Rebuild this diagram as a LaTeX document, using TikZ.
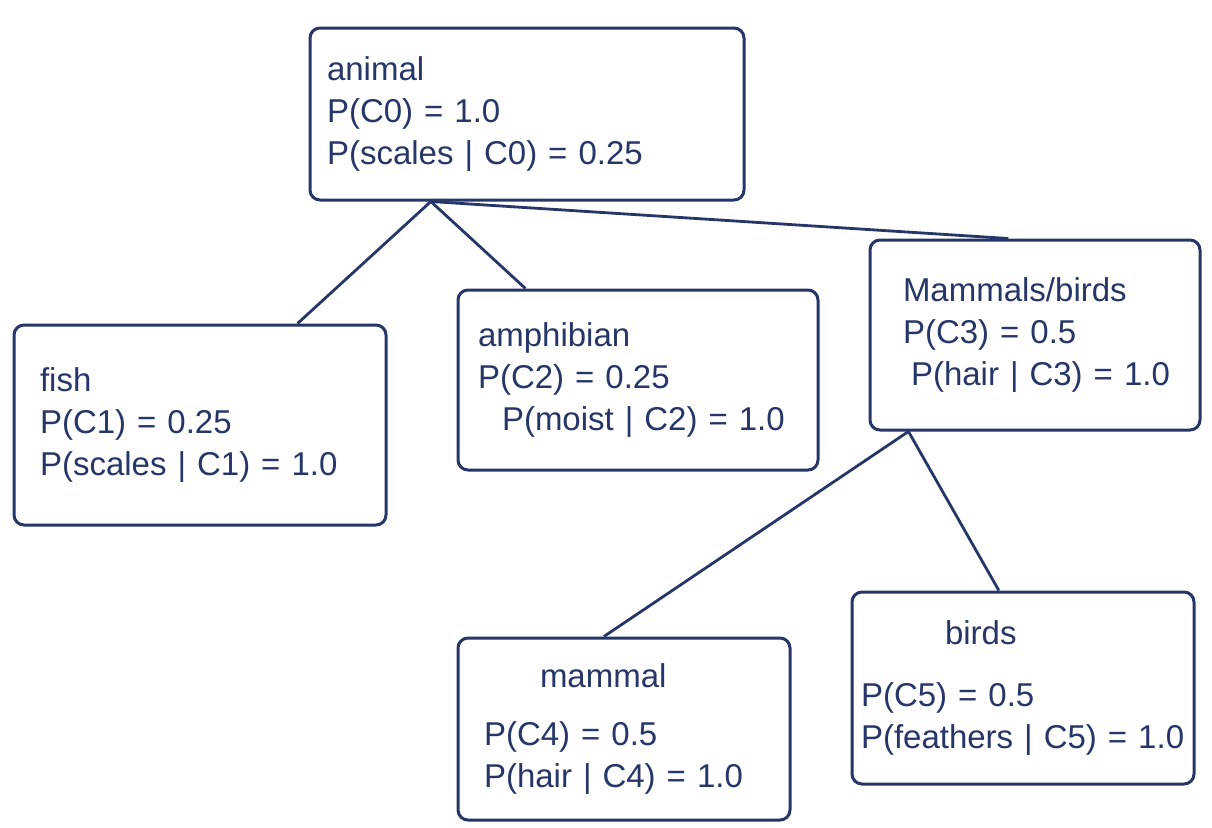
\documentclass[tikz,border=0pt]{standalone}
\usepackage{fontspec}
\setmainfont{Liberation Sans}
\usetikzlibrary{calc}
\definecolor{ink}{HTML}{263668}
\tikzset{
  box/.style={draw=ink, line width=1.5pt, rounded corners=5pt, align=left,
    text=ink, font=\fontsize{16.5}{21}\selectfont, inner sep=0pt, anchor=center},
  link/.style={draw=ink, line width=1.4pt}
}
\begin{document}
\begin{tikzpicture}[x=0.5pt,y=-0.5pt]
\useasboundingbox[fill=white] (0,0) rectangle (1212,827);
\node[box, minimum width=217pt, minimum height=86pt, text width=200pt] (animal) at (527,114)
  {animal\\P(C0) = 1.0\\P(scales | C0) = 0.25};
\node[box, minimum width=186pt, minimum height=100pt, text width=160pt] (fish) at (200,425)
  {fish\\P(C1) = 0.25\\P(scales | C1) = 1.0};
\node[box, minimum width=180pt, minimum height=90pt, text width=160pt] (amph) at (638,380)
  {amphibian\\P(C2) = 0.25\\\hspace{12pt}P(moist | C2) = 1.0};
\node[box, minimum width=165pt, minimum height=95pt, text width=140pt] (mb) at (1035,335)
  {\hspace{4pt}Mammals/birds\\\hspace{4pt}P(C3) = 0.5\\\hspace{8pt}P(hair | C3) = 1.0};
\node[box, minimum width=166pt, minimum height=91pt, text width=140pt] (mammal) at (624,729)
  {\hspace{28pt}mammal\\[8pt]P(C4) = 0.5\\P(hair | C4) = 1.0};
\node[box, minimum width=171pt, minimum height=96pt, text width=162pt] (birds) at (1023,688)
  {\hspace{42pt}birds\\[10pt]P(C5) = 0.5\\P(feathers | C5) = 1.0};
\coordinate (aroot) at ($(animal.south west)!0.28!(animal.south east)$);
\coordinate (mroot) at ($(mb.south west)!0.12!(mb.south east)$);
\draw[link] (aroot) -- ($(fish.north west)!0.76!(fish.north east)$);
\draw[link] (aroot) -- ($(amph.north west)!0.19!(amph.north east)$);
\draw[link] (aroot) -- ($(mb.north west)!0.42!(mb.north east)$);
\draw[link] (mroot) -- ($(mammal.north west)!0.44!(mammal.north east)$);
\draw[link] (mroot) -- ($(birds.north west)!0.43!(birds.north east)$);
\end{tikzpicture}
\end{document}
